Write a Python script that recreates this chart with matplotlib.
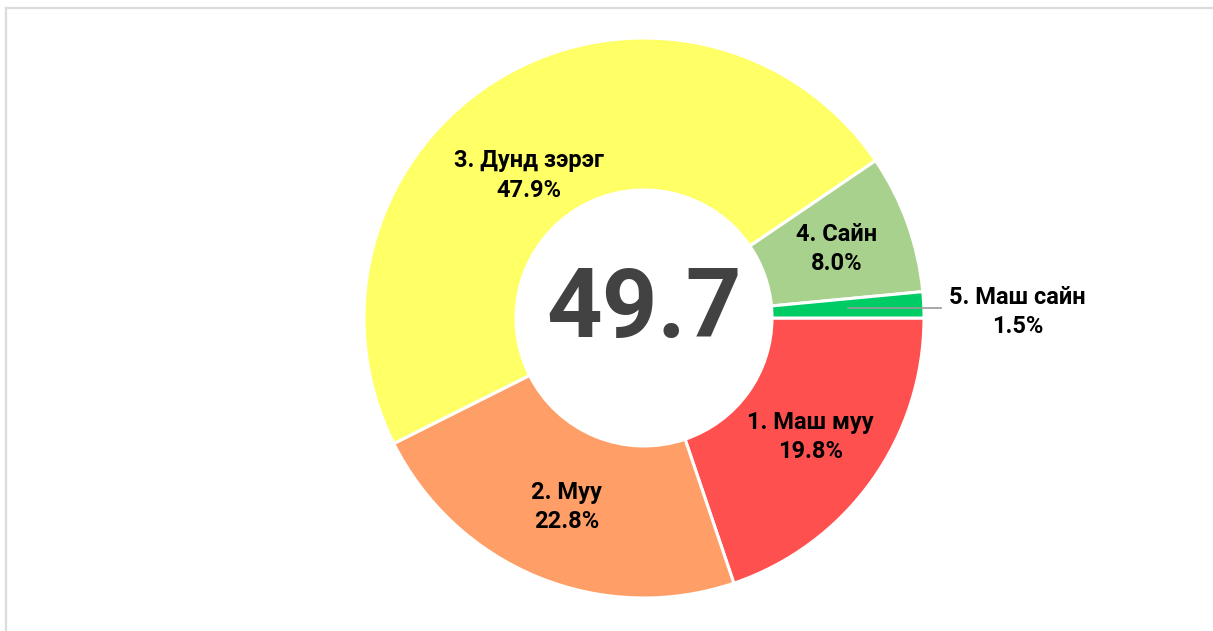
import matplotlib.pyplot as plt
import numpy as np
from matplotlib.lines import Line2D

# Оноо ба ангилал
labels = ["1. Маш муу", "2. Муу", "3. Дунд зэрэг", "4. Сайн", "5. Маш сайн"]
shares = [19.8, 22.8, 47.9, 8.0, 1.5]
colors = ["#ff5050", "#ff9e66", "#ffff66", "#a9d18e", "#00cc66"]
center_value = 49.7

plt.rcParams['font.family'] = ['Roboto', 'DejaVu Sans']

W, H = 1213, 631
fig = plt.figure(figsize=(W / 100, H / 100), dpi=100)

# хүрээ
fig.add_artist(Line2D([6 / W, 1.0], [1 - 8 / H, 1 - 8 / H], color="#dcdcdc", lw=1.6))
fig.add_artist(Line2D([6 / W, 6 / W], [0, 1 - 8 / H], color="#dcdcdc", lw=1.6))

cx, cy, r = 644, 318, 280
ax = fig.add_axes([(cx - r) / W, 1 - (cy + r) / H, 2 * r / W, 2 * r / H])

inner = 128 / 280
wedges, _ = ax.pie(shares, colors=colors, startangle=0, counterclock=False,
                   radius=1, wedgeprops=dict(width=1 - inner, edgecolor="white", linewidth=2.2))
ax.set_xlim(-1, 1)
ax.set_ylim(-1, 1)
ax.axis("off")

lab_r = 0.73
cum = np.cumsum([0] + shares[:-1])
for i, (lab, val) in enumerate(zip(labels, shares)):
    mid = -(cum[i] + val / 2) * 3.6
    ang = np.deg2rad(mid)
    txt = f"{lab}\n{val:.1f}%"
    if val < 3:
        # жижиг хэсэг: гадна шошго, зураастай
        x0, y0 = lab_r * np.cos(ang), lab_r * np.sin(ang)
        ax.plot([x0, 1.06], [y0, y0], color="#999999", lw=1.2, clip_on=False)
        ax.text(1.335, y0 - 0.012, txt, ha="center", va="center", fontsize=17,
                fontweight="bold", linespacing=1.35, clip_on=False)
    else:
        if val > 40:
            ang = np.deg2rad(mid + 8.6)
            rr = 0.655
        else:
            rr = lab_r
        ax.text(rr * np.cos(ang), rr * np.sin(ang), txt, ha="center", va="center",
                fontsize=17, fontweight="bold", linespacing=1.35)

ax.text(0, -0.068, f"{center_value}", ha="center", va="baseline", fontsize=70,
        fontweight="bold", color="#424242")

fig.savefig("out.png", dpi=100)
